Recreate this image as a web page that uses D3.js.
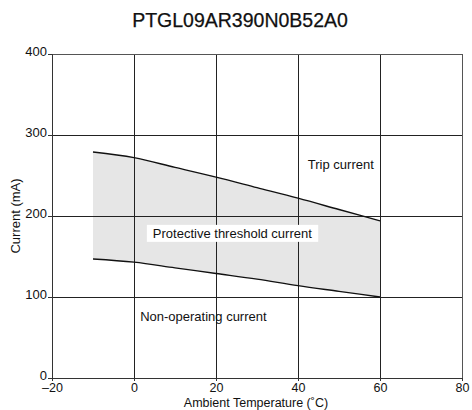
<!DOCTYPE html>
<html>
<head>
<meta charset="utf-8">
<script src="https://cdn.jsdelivr.net/npm/d3@7"></script>
<style>
  html, body { margin: 0; padding: 0; background: #fff; }
  svg { display: block; font-family: "Liberation Sans", Arial, sans-serif; }
</style>
</head>
<body>
<svg id="chart" width="472" height="410"></svg>
<script>
const title = "PTGL09AR390N0B52A0";
const temps = [-10, 0, 10, 20, 30, 40, 50, 60];
const tripCurrent = [279, 272, 260, 248, 235, 222, 208, 194];
const holdCurrent = [147, 143, 136, 129, 122, 114, 107, 100];
const xTicks = [-20, 0, 20, 40, 60, 80];
const yTicks = [0, 100, 200, 300, 400];
const regionLabels = [
  { text: "Trip current", x: 42.4, y: 258, box: false },
  { text: "Protective threshold current", x: 4.6, y: 173, box: true },
  { text: "Non-operating current", x: 1.5, y: 70, box: false }
];
const xLabel = "Ambient Temperature (˚C)";
const yLabel = "Current (mA)";

const svg = d3.select("#chart");
const m = { left: 52, right: 10, top: 54, bottom: 32 };
const W = 472, H = 410;
const x = d3.scaleLinear().domain([-20, 80]).range([m.left, W - m.right]);
const y = d3.scaleLinear().domain([0, 400]).range([H - m.bottom, m.top]);

// title
svg.append("text").attr("x", 240).attr("y", 27).attr("text-anchor", "middle")
  .attr("font-size", 19.5).attr("fill", "#111")
  .attr("stroke", "#111").attr("stroke-width", 0.25).text(title);

const data = temps.map((t, i) => ({ t, hi: tripCurrent[i], lo: holdCurrent[i] }));

// shaded region
svg.append("path").datum(data)
  .attr("d", d3.area().x(d => x(d.t)).y0(d => y(d.lo)).y1(d => y(d.hi)).curve(d3.curveMonotoneX))
  .attr("fill", "#e6e6e6");

// grid
const g = svg.append("g");
g.selectAll("line.v").data(xTicks.slice(1, -1)).join("line")
  .attr("x1", d => x(d)).attr("x2", d => x(d)).attr("y1", y(0)).attr("y2", y(400))
  .attr("stroke", "#222").attr("stroke-width", 1).attr("shape-rendering", "crispEdges");
g.selectAll("line.h").data(yTicks.slice(1, -1)).join("line")
  .attr("x1", x(-20)).attr("x2", x(80)).attr("y1", d => y(d)).attr("y2", d => y(d))
  .attr("stroke", "#222").attr("stroke-width", 1).attr("shape-rendering", "crispEdges");

// frame
svg.append("rect").attr("x", x(-20)).attr("y", y(400))
  .attr("width", x(80) - x(-20)).attr("height", y(0) - y(400))
  .attr("fill", "none").attr("stroke", "#555").attr("stroke-width", 1)
  .attr("shape-rendering", "crispEdges");

// curves
const line = key => d3.line().x(d => x(d.t)).y(d => y(d[key])).curve(d3.curveMonotoneX);
svg.append("path").datum(data).attr("d", line("hi")).attr("fill", "none")
  .attr("stroke", "#111").attr("stroke-width", 1.4);
svg.append("path").datum(data).attr("d", line("lo")).attr("fill", "none")
  .attr("stroke", "#111").attr("stroke-width", 1.4);

// axes
const fmt = d => d < 0 ? "\u2013" + Math.abs(d) : String(d);
const xAxis = svg.append("g").attr("transform", `translate(0,${y(0)})`)
  .call(d3.axisBottom(x).tickValues(xTicks).tickFormat(fmt).tickSize(3).tickPadding(2));
const yAxis = svg.append("g").attr("transform", `translate(${x(-20)},0)`)
  .call(d3.axisLeft(y).tickValues(yTicks).tickFormat(fmt).tickSize(4).tickPadding(1));
[xAxis, yAxis].forEach(a => {
  a.select(".domain").attr("stroke", "#333");
  a.selectAll(".tick line").attr("stroke", "#333");
  a.selectAll(".tick text").attr("font-size", 12.5).attr("fill", "#111")
    .attr("font-family", "Liberation Sans, Arial, sans-serif");
});
yAxis.selectAll(".tick text").attr("dy", "0.1em").attr("font-size", 13);

// axis titles
svg.append("text").attr("x", x(30) - 1).attr("y", 407).attr("text-anchor", "middle")
  .attr("font-size", 12.5).attr("fill", "#111").text(xLabel);
svg.append("text").attr("transform", `translate(20,${y(200)}) rotate(-90)`)
  .attr("text-anchor", "middle").attr("font-size", 13).attr("fill", "#111").text(yLabel);

// region labels
regionLabels.forEach(l => {
  const t = svg.append("text").attr("x", x(l.x)).attr("y", y(l.y))
    .attr("font-size", 13).attr("fill", "#111").text(l.text);
  if (l.box) {
    const bb = t.node().getBBox();
    svg.insert("rect", () => t.node())
      .attr("x", bb.x - 6).attr("y", bb.y - 1).attr("width", bb.width + 12).attr("height", bb.height + 2)
      .attr("fill", "#fff");
  }
});
</script>
</body>
</html>
